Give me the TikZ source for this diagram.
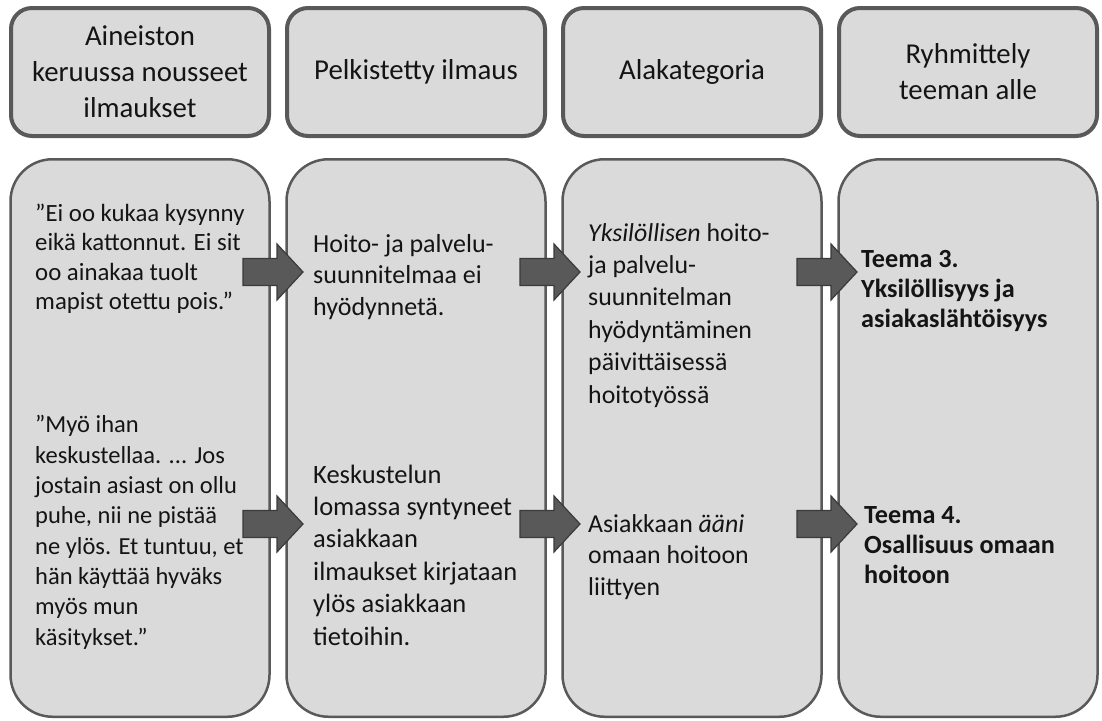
\documentclass[tikz,border=0pt]{standalone}
\usepackage{fontspec}
\setmainfont{Carlito}
\begin{document}
\begin{tikzpicture}[x=1pt,y=-1pt,
  headbox/.style={draw=boxline, line width=4pt, fill=boxfill, rounded corners=21pt,
    minimum width=258pt, minimum height=128pt, inner sep=0pt, align=center,
    text=ink, font=\fontsize{28.8}{36}\selectfont},
  bodybox/.style={draw=boxline, line width=2.5pt, fill=boxfill, rounded corners=42pt,
    minimum width=259pt, minimum height=557.5pt, inner sep=0pt},
  % anchored at the baseline of the last line of the block
  bodytext/.style={anchor=base west, inner sep=0pt, align=left, text=ink},
  arrowbody/.style={fill=arrowfill, draw=arrowline, line width=1.2pt, line join=miter},
  blockarrow/.pic={\path[arrowbody] (-30,-13.5) -- (4,-13.5) -- (4,-28) -- (30,0)
    -- (4,28) -- (4,13.5) -- (-30,13.5) -- cycle;}
]
\definecolor{boxfill}{HTML}{DADADA}
\definecolor{boxline}{HTML}{595959}
\definecolor{arrowfill}{HTML}{595959}
\definecolor{arrowline}{HTML}{3A3A3A}
\definecolor{ink}{HTML}{141414}
\useasboundingbox (0,0) rectangle (1102,720);

% column headings
\node[headbox] (h1) at (140,72) {Aineiston\\keruussa nousseet\\ilmaukset};
\node[headbox] (h2) at (416,72) {Pelkistetty ilmaus};
\node[headbox] (h3) at (692,72) {Alakategoria};
\node[headbox] (h4) at (968,72) {Ryhmittely\\teeman alle};

% column bodies
\node[bodybox] (b1) at (140,438) {};
\node[bodybox] (b2) at (416,438) {};
\node[bodybox] (b3) at (692,438) {};
\node[bodybox] (b4) at (968,438) {};

% column 1: quotations
\node[bodytext, font=\fontsize{24.8}{29.5}\selectfont] (q1) at (35,309.5)
  {”Ei oo kukaa kysynny\\eikä kattonnut. Ei sit\\oo ainakaa tuolt\\mapist otettu pois.”};
\node[bodytext, font=\fontsize{24.5}{30.3}\selectfont] (q2) at (35,645)
  {”Myö ihan\\keskustellaa. ... Jos\\jostain asiast on ollu\\puhe, nii ne pistää\\ne ylös. Et tuntuu, et\\hän käyttää hyväks\\myös mun\\käsitykset.”};

% column 2: reduced expressions
\node[bodytext, font=\fontsize{26}{31.5}\selectfont] (p1) at (313,315)
  {Hoito- ja palvelu-\\suunnitelmaa ei\\hyödynnetä.};
\node[bodytext, font=\fontsize{26.5}{32.4}\selectfont] (p2) at (313,645)
  {Keskustelun\\lomassa syntyneet\\asiakkaan\\ilmaukset kirjataan\\ylös asiakkaan\\tietoihin.};

% column 3: subcategories
\node[bodytext, font=\fontsize{25.8}{32.4}\selectfont] (s1) at (588,403)
  {\textit{Yksilöllisen} hoito-\\ja palvelu-\\suunnitelman\\hyödyntäminen\\päivittäisessä\\hoitotyössä};
\node[bodytext, font=\fontsize{25.8}{31.5}\selectfont] (s2) at (588,595)
  {Asiakkaan \textit{ääni}\\omaan hoitoon\\liittyen};

% column 4: themes
\node[bodytext, font=\bfseries\fontsize{26.2}{29.6}\selectfont] (t1) at (861,327)
  {Teema 3.\\Yksilöllisyys ja\\asiakaslähtöisyys};
\node[bodytext, font=\bfseries\fontsize{26.2}{30}\selectfont] (t2) at (864,583)
  {Teema 4.\\Osallisuus omaan\\hoitoon};

% block arrows between the columns
\pic at (273,272) {blockarrow};
\pic at (550,272) {blockarrow};
\pic at (827,272) {blockarrow};
\pic at (273,524) {blockarrow};
\pic at (550,524) {blockarrow};
\pic at (827,524) {blockarrow};
\end{tikzpicture}
\end{document}
